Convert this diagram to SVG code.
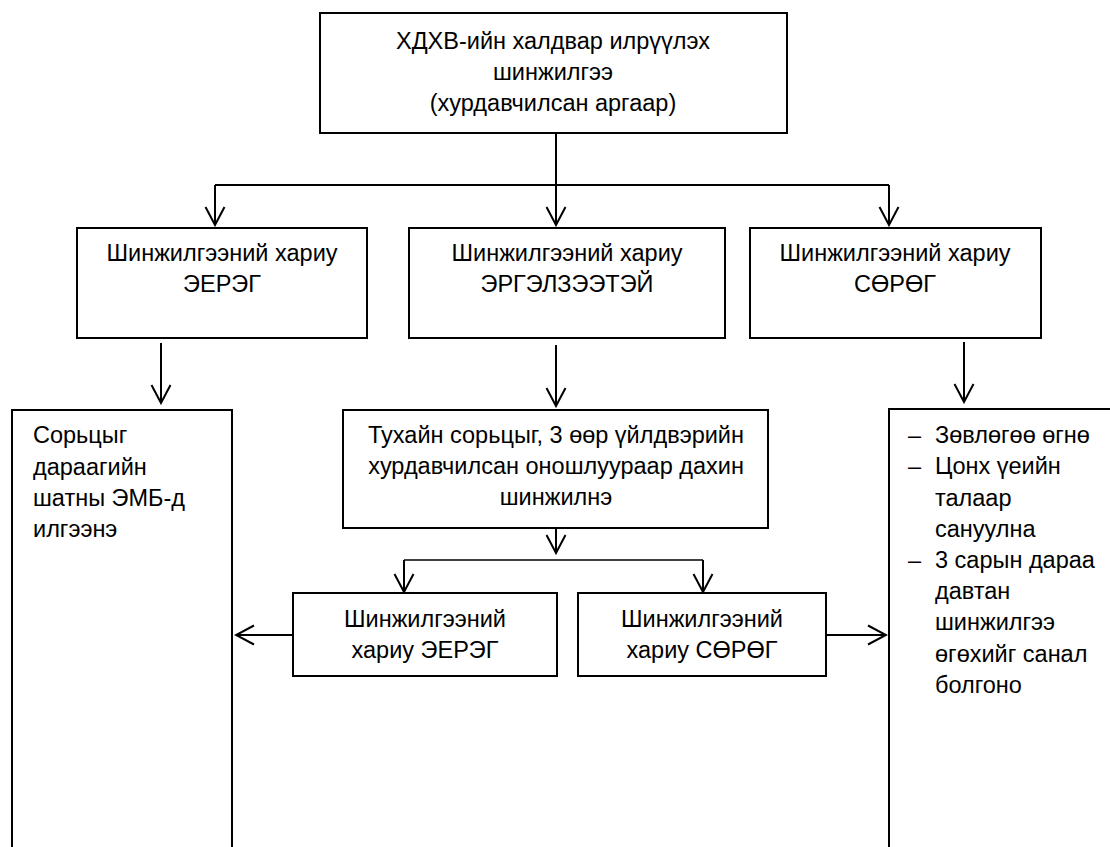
<svg xmlns="http://www.w3.org/2000/svg" width="1110" height="847" viewBox="0 0 1110 847">
<defs>
<style>
.box{fill:#fff;stroke:#000;stroke-width:2}
.t{font-family:"Liberation Sans",Arial,sans-serif;font-size:23.5px;fill:#000}
.c{text-anchor:middle}
.ln{fill:none;stroke:#000;stroke-width:2}
.thin{fill:none;stroke:#000;stroke-width:1.5}
</style>
<marker id="arr" viewBox="-20 -11 22 22" markerWidth="22" markerHeight="22" refX="0" refY="0" orient="auto" markerUnits="userSpaceOnUse">
<path d="M-18,-9.5 L0,0 L-18,9.5" fill="none" stroke="#000" stroke-width="2"/>
</marker>
</defs>
<rect width="1110" height="847" fill="#fff"/>
<g id="connectors">
<path class="ln" d="M556,133 V185"/>
<path class="ln" d="M215,185 H889"/>
<path class="ln" d="M215,185 V225" marker-end="url(#arr)"/>
<path class="ln" d="M556,185 V225" marker-end="url(#arr)"/>
<path class="ln" d="M889,185 V225" marker-end="url(#arr)"/>
<path class="ln" d="M161,343 V403" marker-end="url(#arr)"/>
<path class="ln" d="M556,345 V406" marker-end="url(#arr)"/>
<path class="ln" d="M964,342 V402" marker-end="url(#arr)"/>
<path class="ln" d="M556,529 V553" marker-end="url(#arr)"/>
<path class="thin" d="M404,560 H703"/>
<path class="ln" d="M404,560 V592" marker-end="url(#arr)"/>
<path class="ln" d="M703,560 V592" marker-end="url(#arr)"/>
<path class="ln" d="M293,635 H236" marker-end="url(#arr)"/>
<path class="ln" d="M826,635 H886" marker-end="url(#arr)"/>
</g>
<g id="n-top">
<rect class="box" x="320" y="13" width="467" height="120"/>
<text class="t c" x="553" y="49">ХДХВ-ийн халдвар илрүүлэх</text>
<text class="t c" x="553" y="80">шинжилгээ</text>
<text class="t c" x="553" y="111">(хурдавчилсан аргаар)</text>
</g>
<g id="n-pos">
<rect class="box" x="77" y="228" width="290" height="110"/>
<text class="t c" x="222" y="261">Шинжилгээний хариу</text>
<text class="t c" x="222" y="292">ЭЕРЭГ</text>
</g>
<g id="n-unc">
<rect class="box" x="409" y="228" width="316" height="110"/>
<text class="t c" x="567" y="261">Шинжилгээний хариу</text>
<text class="t c" x="567" y="292">ЭРГЭЛЗЭЭТЭЙ</text>
</g>
<g id="n-neg">
<rect class="box" x="750" y="228" width="291" height="110"/>
<text class="t c" x="895" y="261">Шинжилгээний хариу</text>
<text class="t c" x="895" y="292">СӨРӨГ</text>
</g>
<g id="n-send">
<rect class="box" x="12" y="410" width="220" height="460"/>
<text class="t" x="33" y="443">Сорьцыг</text>
<text class="t" x="33" y="475">дараагийн</text>
<text class="t" x="33" y="506">шатны ЭМБ-д</text>
<text class="t" x="33" y="537">илгээнэ</text>
</g>
<g id="n-retest">
<rect class="box" x="343" y="410" width="425" height="118"/>
<text class="t c" x="556" y="443">Тухайн сорьцыг, 3 өөр үйлдвэрийн</text>
<text class="t c" x="556" y="474">хурдавчилсан оношлуураар дахин</text>
<text class="t c" x="556" y="505">шинжилнэ</text>
</g>
<g id="n-pos2">
<rect class="box" x="293" y="593" width="264" height="83"/>
<text class="t c" x="425" y="627">Шинжилгээний</text>
<text class="t c" x="425" y="658">хариу ЭЕРЭГ</text>
</g>
<g id="n-neg2">
<rect class="box" x="578" y="593" width="248" height="83"/>
<text class="t c" x="702" y="627">Шинжилгээний</text>
<text class="t c" x="702" y="658">хариу СӨРӨГ</text>
</g>
<g id="n-advice">
<rect class="box" x="889" y="409" width="240" height="460"/>
<text class="t" x="908" y="443">–</text>
<text class="t" x="935" y="443">Зөвлөгөө өгнө</text>
<text class="t" x="908" y="474">–</text>
<text class="t" x="935" y="474">Цонх үеийн</text>
<text class="t" x="935" y="506">талаар</text>
<text class="t" x="935" y="537">сануулна</text>
<text class="t" x="908" y="568">–</text>
<text class="t" x="935" y="568">3 сарын дараа</text>
<text class="t" x="935" y="599">давтан</text>
<text class="t" x="935" y="630">шинжилгээ</text>
<text class="t" x="935" y="662">өгөхийг санал</text>
<text class="t" x="935" y="693">болгоно</text>
</g>
</svg>
